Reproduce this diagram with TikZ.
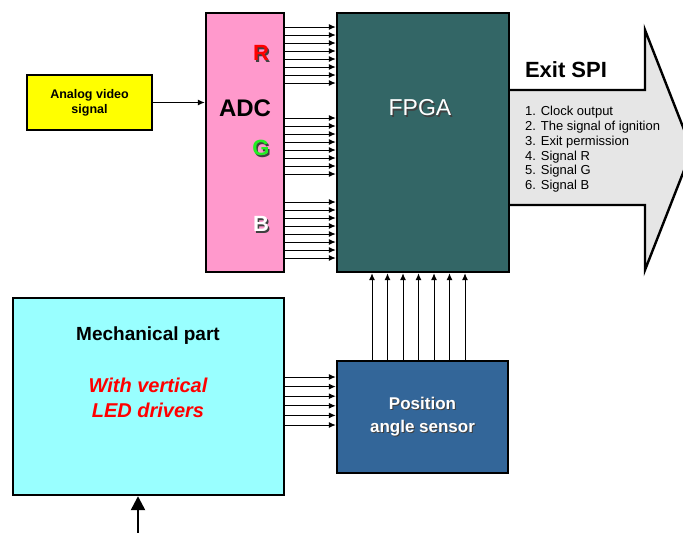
\documentclass[tikz,border=0pt]{standalone}
\usepackage{fontspec}
\setmainfont{Liberation Sans}
\usetikzlibrary{arrows.meta}
\definecolor{sigyellow}{HTML}{FFFF00}
\definecolor{adcpink}{HTML}{FF99CC}
\definecolor{fpgateal}{HTML}{336666}
\definecolor{spigray}{HTML}{E6E6E6}
\definecolor{mechcyan}{HTML}{99FFFF}
\definecolor{sensblue}{HTML}{336699}
\definecolor{ggreen}{HTML}{22EE22}
\tikzset{
  block/.style={draw,line width=2.4pt,inner sep=0pt},
  wire/.style={-{Latex[length=7pt,width=6pt]},line width=1pt},
  shade/.style={text=black!75},
}
\begin{document}
\begin{tikzpicture}[x=1pt,y=-1pt]
\useasboundingbox (0,0) rectangle (683,533);
\fill[spigray] (505,90) -- (645,90) -- (645,30) -- (692,150) -- (645,270) -- (645,205) -- (505,205) -- cycle;
\draw[line width=2.4pt,line join=miter] (505,90) -- (645,90) -- (645,30) -- (692,150) -- (645,270) -- (645,205) -- (505,205);
\node[block,fill=sigyellow,minimum width=125,minimum height=55,align=center,font=\bfseries\fontsize{12.5}{15}\selectfont] (analog) at (89.5,102.5) {Analog video\\signal};
\node[block,fill=adcpink,minimum width=78,minimum height=259] (adc) at (245,142.5) {};
\node[block,fill=fpgateal,minimum width=172,minimum height=259] (fpga) at (423,142.5) {};
\node[block,fill=mechcyan,minimum width=271,minimum height=197] (mech) at (148.5,396.5) {};
\node[block,fill=sensblue,minimum width=171,minimum height=112] (pos) at (422.5,417) {};
\node[font=\bfseries\fontsize{24}{28}\selectfont] (adclabel) at (245,108) {ADC};
\node[shade,font=\bfseries\fontsize{22}{26}\selectfont] (rshade) at (262.5,54.5) {R};
\node[text=red,font=\bfseries\fontsize{22}{26}\selectfont] (rlabel) at (261,53) {R};
\node[shade,font=\bfseries\fontsize{22}{26}\selectfont] (gshade) at (262.5,149.5) {G};
\node[text=ggreen,font=\bfseries\fontsize{22}{26}\selectfont] (glabel) at (261,148) {G};
\node[shade,font=\bfseries\fontsize{22}{26}\selectfont] (bshade) at (262.5,225.5) {B};
\node[text=white,font=\bfseries\fontsize{22}{26}\selectfont] (blabel) at (261,224) {B};
\node[shade,font=\fontsize{23}{27}\selectfont] (fpgashade) at (421.5,109.5) {FPGA};
\node[text=white,font=\fontsize{23}{27}\selectfont] (fpgalabel) at (420,108) {FPGA};
\node[font=\bfseries\fontsize{22}{26}\selectfont] (spi) at (566,70) {Exit SPI};
\node[anchor=north west,align=left,inner sep=0pt,font=\fontsize{13}{14.8}\selectfont] (spilist) at (525,106) {1. Clock output\\2. The signal of ignition\\3. Exit permission\\4. Signal R\\5. Signal G\\6. Signal B};
\node[font=\bfseries\fontsize{19}{22}\selectfont] (mechlabel) at (148,336) {Mechanical part};
\node[text=red,align=center,font=\bfseries\itshape\fontsize{20}{25}\selectfont] (mechnote) at (148,398) {With vertical\\LED drivers};
\node[shade,align=center,font=\bfseries\fontsize{17}{23}\selectfont] (posshade) at (423.5,418) {Position\\angle sensor};
\node[text=white,align=center,font=\bfseries\fontsize{17}{23}\selectfont] (poslabel) at (422.5,416.5) {Position\\angle sensor};
\draw[wire] (analog) -- (adc.west |- analog);
\foreach \i in {0,...,7} {
  \draw[wire] (adc.east |- 0,27+8*\i) -- (fpga.west |- 0,27+8*\i);
  \draw[wire] (adc.east |- 0,118+8*\i) -- (fpga.west |- 0,118+8*\i);
  \draw[wire] (adc.east |- 0,202+8*\i) -- (fpga.west |- 0,202+8*\i);
}
\foreach \i in {0,...,5}
  \draw[wire] (mech.east |- 0,377+9.6*\i) -- (pos.west |- 0,377+9.6*\i);
\foreach \i in {0,...,6}
  \draw[wire] (pos.north -| 372+15.5*\i,0) -- (fpga.south -| 372+15.5*\i,0);
\coordinate (feed) at (138,533);
\draw[-{Triangle[length=14pt,width=14pt]},line width=2.4pt] (feed) -- (feed |- mech.south);
\end{tikzpicture}
\end{document}
